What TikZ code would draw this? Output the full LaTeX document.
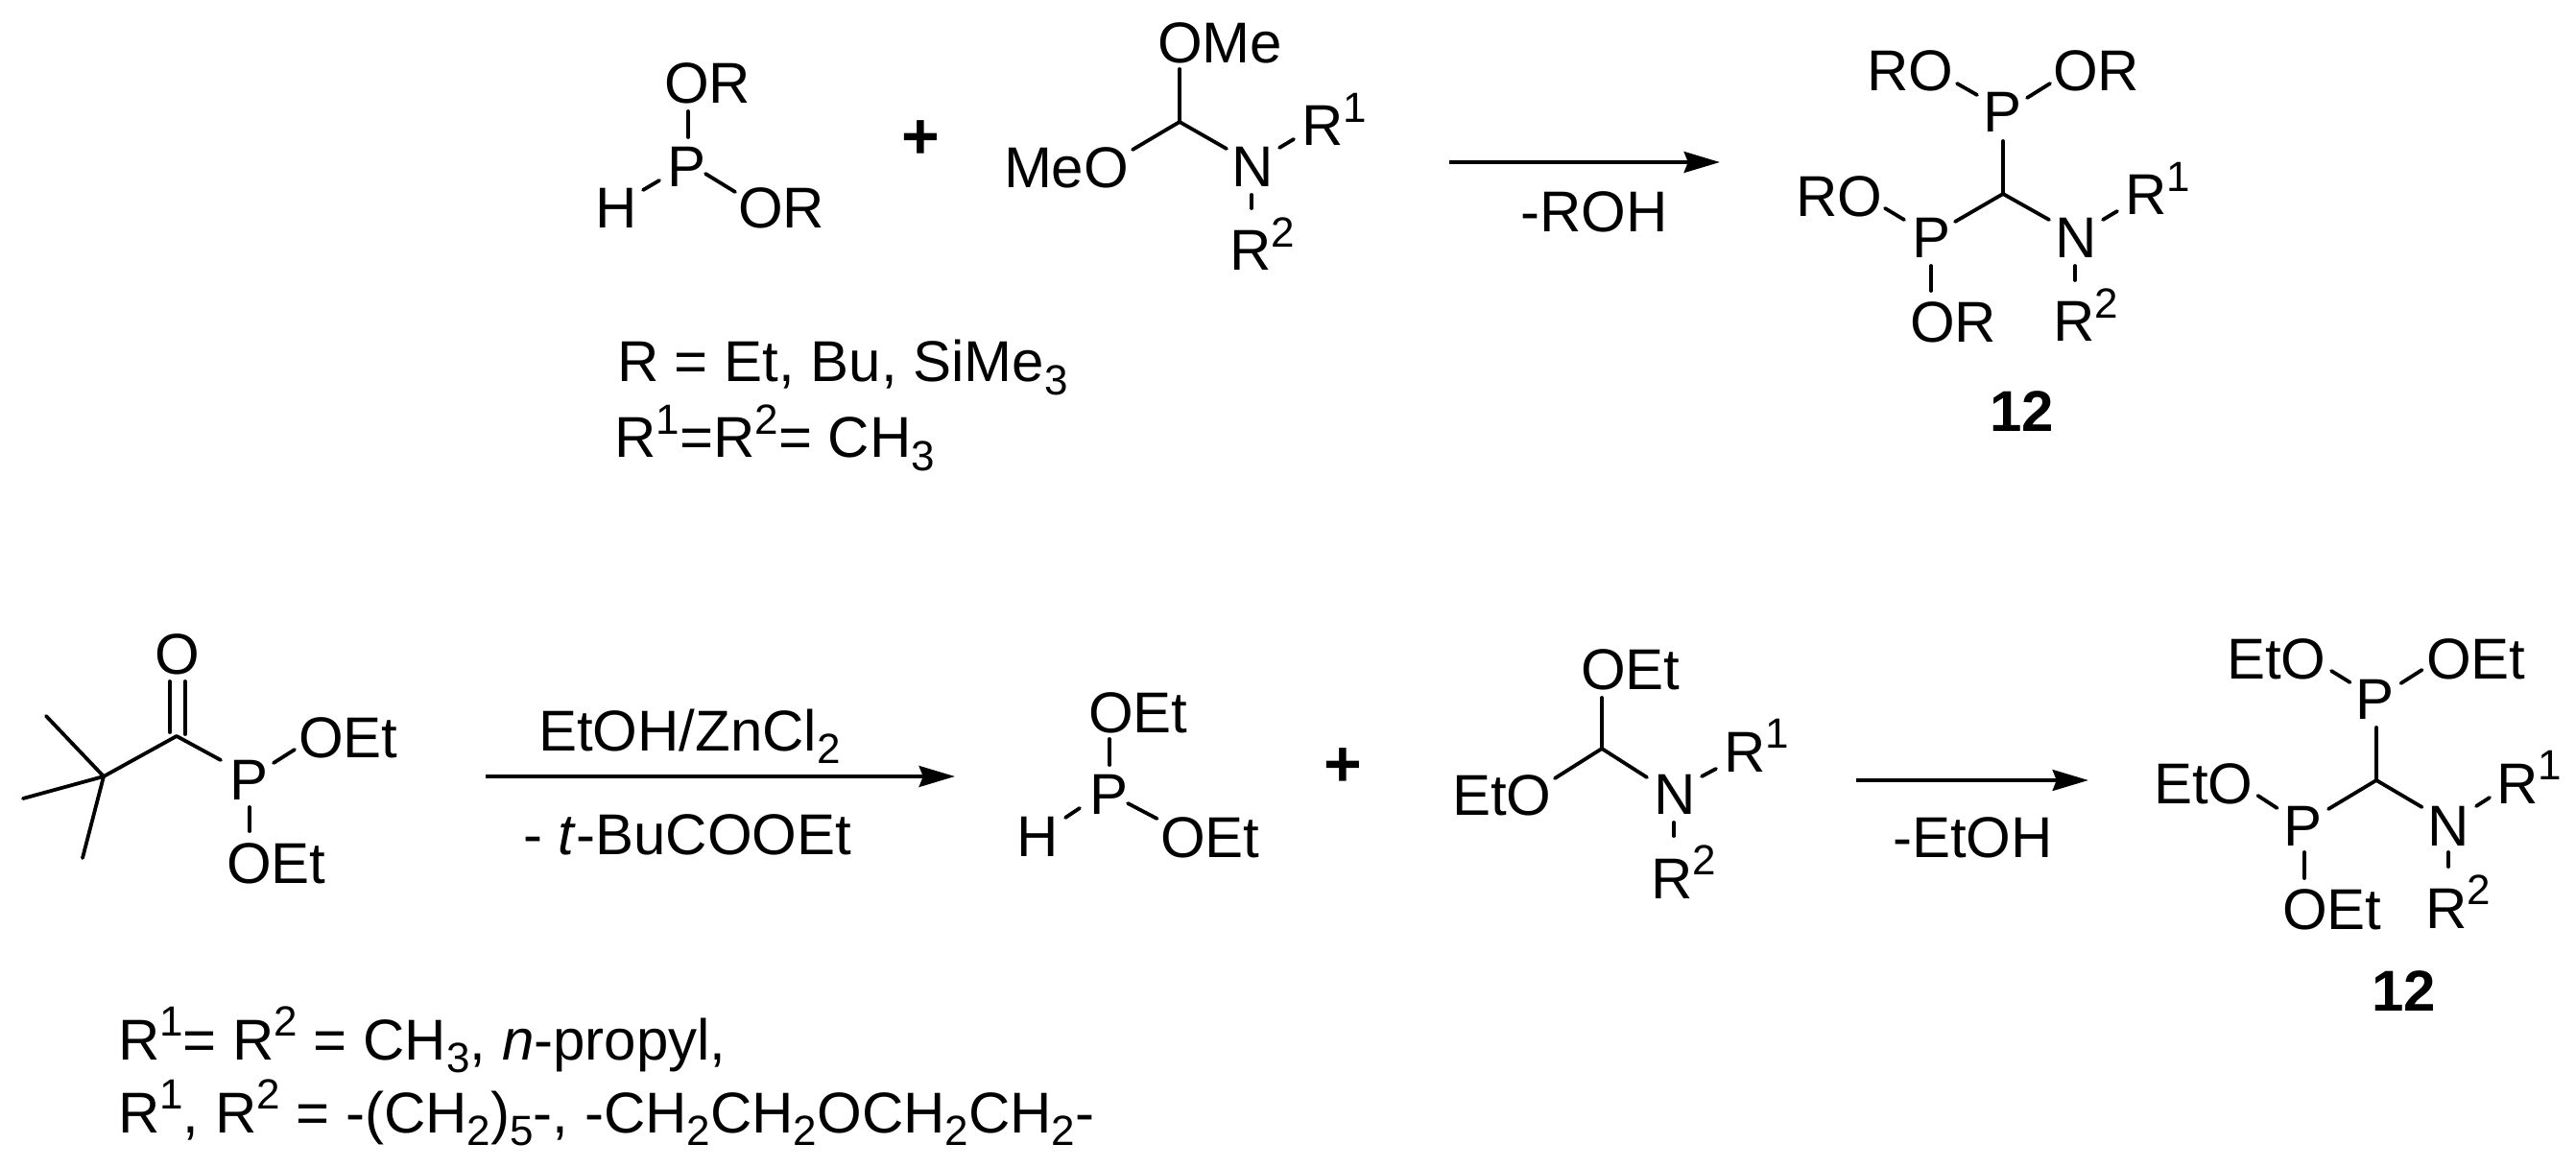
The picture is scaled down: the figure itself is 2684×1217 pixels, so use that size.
\documentclass[tikz,border=0pt]{standalone}
\usepackage{fontspec}
\setmainfont{Liberation Sans}
\usetikzlibrary{arrows.meta}
\newcommand{\supr}[1]{\raisebox{6.2pt}{\fontsize{11}{11}\selectfont #1}}
\newcommand{\subr}[1]{\raisebox{-3.4pt}{\fontsize{11}{11}\selectfont #1}}
\begin{document}
\begin{tikzpicture}[x=.25pt,y=-.25pt,
    atom/.style={anchor=base west,inner sep=0pt,outer sep=0pt,font=\fontsize{15}{18}\selectfont},
    cpd/.style={atom,font=\fontsize{15}{18}\selectfont\bfseries},
    plus/.style={inner sep=0pt,font=\fontsize{17}{18}\selectfont\bfseries},
    junction/.style={inner sep=0pt,outer sep=0pt,minimum size=0pt},
    bond/.style={line width=.95pt,line cap=round},
    rxn/.style={line width=1.15pt,-{Stealth[length=9.3pt,width=5.4pt,inset=1pt]}}]
    \useasboundingbox (0,0) rectangle (2684,1217);
    \node[atom] (pa) at (695,195) {P};
    \node[atom] (ora) at (692,108) {OR};
    \node[atom] (ha) at (620,238) {H};
    \node[atom] (orb) at (769,238) {OR};
    \node[plus] (plusa) at (959,146) {+};
    \node[junction] (cb) at (1229,127) {};
    \node[atom] (omea) at (1206,66) {OMe};
    \node[atom] (meo) at (1046,196) {MeO};
    \node[atom] (na) at (1283,195) {N};
    \node[atom] (ra1) at (1356,152) {R\supr{1}};
    \node[atom] (ra2) at (1281,282) {R\supr{2}};
    \node[atom] (rdefa) at (643,398) {R = Et, Bu, SiMe\subr{3}};
    \node[atom] (rdefb) at (640.5,477) {R\supr{1}=R\supr{2}= CH\subr{3}};
    \coordinate (a1s) at (1510,169);
    \coordinate (a1e) at (1792,169);
    \node[atom] (roh) at (1584,242) {-ROH};
    \node[junction] (cc) at (2087,202) {};
    \node[atom] (pb) at (2066,138) {P};
    \node[atom] (orc) at (2139,95) {OR};
    \node[atom] (rod) at (1945,95) {RO};
    \node[atom] (pc) at (1992,269) {P};
    \node[atom] (roe) at (1871,226) {RO};
    \node[atom] (orf) at (1990,357) {OR};
    \node[atom] (nb) at (2141,269) {N};
    \node[atom] (rb1) at (2214,224) {R\supr{1}};
    \node[atom] (rb2) at (2139,356) {R\supr{2}};
    \node[cpd] (cpda) at (2073,450) {12};
    \node[junction] (cd) at (184,767) {};
    \node[junction] (ce) at (108,809) {};
    \node[junction] (mea) at (48,746) {};
    \node[junction] (meb) at (24,832) {};
    \node[junction] (mec) at (86,894) {};
    \node[atom] (od) at (161,702) {O};
    \node[atom] (pd) at (239,833) {P};
    \node[atom] (oeta) at (311,789) {OEt};
    \node[atom] (oetb) at (236,920) {OEt};
    \coordinate (a2s) at (506,809);
    \coordinate (a2e) at (995,809);
    \node[atom] (zncl) at (561,782) {EtOH/ZnCl\subr{2}};
    \node[atom] (ester) at (545,890) {- \textit{t}-BuCOOEt};
    \node[atom] (pe) at (1135,848) {P};
    \node[atom] (oetc) at (1134,763) {OEt};
    \node[atom] (hb) at (1059,892) {H};
    \node[atom] (oetd) at (1209,893) {OEt};
    \node[plus] (plusb) at (1399,800) {+};
    \node[junction] (cf) at (1669,780) {};
    \node[atom] (oete) at (1647,718) {OEt};
    \node[atom] (etof) at (1513,849) {EtO};
    \node[atom] (nc) at (1723,848) {N};
    \node[atom] (rc1) at (1796,804) {R\supr{1}};
    \node[atom] (rc2) at (1720,936) {R\supr{2}};
    \coordinate (a3s) at (1934,813);
    \coordinate (a3e) at (2176,813);
    \node[atom] (etoh) at (1972,893) {-EtOH};
    \node[junction] (cg) at (2476,813) {};
    \node[atom] (pf) at (2454,749) {P};
    \node[atom] (etog) at (2320,707) {EtO};
    \node[atom] (oetg) at (2528,707) {OEt};
    \node[atom] (pg) at (2379,881) {P};
    \node[atom] (etoi) at (2244,837) {EtO};
    \node[atom] (oeth) at (2378,968) {OEt};
    \node[atom] (nd) at (2529,881) {N};
    \node[atom] (rd1) at (2601.5,837) {R\supr{1}};
    \node[atom] (rd2) at (2527.5,967) {R\supr{2}};
    \node[cpd] (cpdb) at (2471,1053) {12};
    \node[atom] (rdefc) at (123,1104) {R\supr{1}= R\supr{2} = CH\subr{3}, \textit{n}-propyl,};
    \node[atom] (rdefd) at (123,1180) {R\supr{1}, R\supr{2} = -(CH\subr{2})\subr{5}-, -CH\subr{2}CH\subr{2}OCH\subr{2}CH\subr{2}-};
    \foreach \m/\mx/\my/\n/\nx/\ny in {
        pa/22/-52/ora/25/8, pa/-8/-7/ha/50/-40, pa/40/-14/orb/-3/-38,
        cb/0/0/omea/23/6, cb/0/0/meo/134/-40, cb/0/0/na/-5/-40,
        na/50/-41/ra1/-8/-7, na/21/8/ra2/23/-65,
        pb/46/-36/orc/-3/-8, pb/-6/-39/rod/94/-8, pb/21/9/cc/0/0,
        cc/0/0/pc/45/-38, cc/0/0/nb/-6/-40,
        pc/-8/-40/roe/93/-9, pc/20/8/orf/22/-54,
        nb/50/-40/rb1/-8/-4, nb/21/8/rb2/23/-64,
        od/16/8/cd/-7/-4, od/32/8/cd/9/-2,
        cd/0/0/pd/-9/-41, cd/0/0/ce/0/0,
        ce/0/0/mea/0/0, ce/0/0/meb/0/0, ce/0/0/mec/0/0,
        pd/46/-38/oeta/-4/-8, pd/21/8/oetb/24/-54,
        pe/21/-51/oetc/22/7, pe/-10/-6/hb/51/-40, pe/40/-11/oetd/-3.5/-40,
        cf/0/0/oete/22/9, cf/0/0/etof/107/-38, cf/0/0/nc/-7/-38,
        nc/50/-39/rc1/-8/-3, nc/21/9/rc2/24/-65,
        pf/-5.5/-38/etog/109/-8, pf/47.5/-37/oetg/-4.5/-9, pf/22/9/cg/0/0,
        cg/0/0/pg/47/-38, cg/0/0/nd/-5.5/-40,
        pg/-6.5/-39/etoi/108.5/-8, pg/22/7/oeth/23/-53,
        nd/51/-41/rd1/-7.5/-6, nd/22/7/rd2/23.5/-64}
        \draw[bond] ([shift={(\mx,\my)}]\m.base west) -- ([shift={(\nx,\ny)}]\n.base west);
    \draw[rxn] (a1s) -- (a1e);
    \draw[rxn] (a2s) -- (a2e);
    \draw[rxn] (a3s) -- (a3e);
\end{tikzpicture}
\end{document}
